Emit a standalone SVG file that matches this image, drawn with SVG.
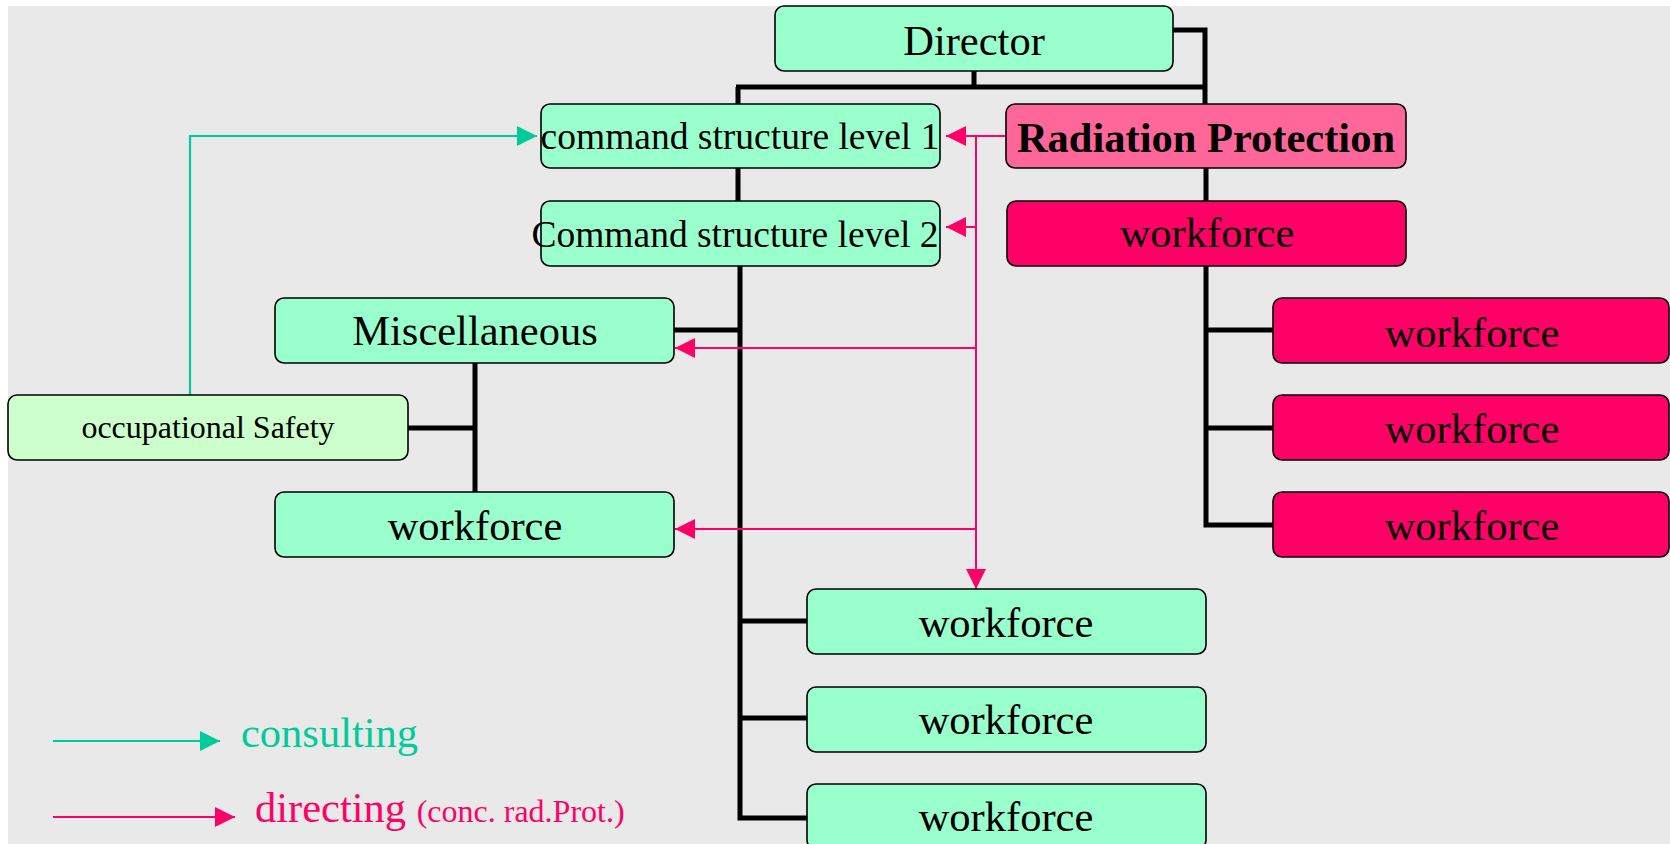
<svg xmlns="http://www.w3.org/2000/svg" width="1670" height="844" viewBox="0 0 1670 844">
<defs>
<style>
.bg{fill:#e9e9e9}
.g{fill:#99ffcc;stroke:#000;stroke-width:1.6}
.lg{fill:#ccffcc;stroke:#000;stroke-width:1.6}
.rp{fill:#ff6699;stroke:#000;stroke-width:1.6}
.r{fill:#ff0066;stroke:#000;stroke-width:1.6}
text{font-family:"Liberation Serif","Times New Roman",serif;fill:#000;text-anchor:middle}
.t{font-size:42.5px}
.tc{font-size:37.5px}
.ts{font-size:32px}
.tb{font-size:42.5px;font-weight:bold}
.thick{fill:none;stroke:#000;stroke-width:5}
.pink{fill:none;stroke:#ff0066;stroke-width:2}
.teal{fill:none;stroke:#00cc99;stroke-width:2.2}
</style>
<marker id="ap" markerUnits="userSpaceOnUse" markerWidth="20" markerHeight="20" refX="20" refY="10" orient="auto"><path d="M0,0L20,10L0,20z" fill="#ff0066"/></marker>
<marker id="at" markerUnits="userSpaceOnUse" markerWidth="20" markerHeight="20" refX="20" refY="10" orient="auto"><path d="M0,0L20,10L0,20z" fill="#00cc99"/></marker>
</defs>
<rect class="bg" x="8" y="6" width="1662" height="838"/>
<g id="connectors">
<path class="thick" d="M1173,30H1205V104"/>
<path class="thick" d="M974,71V87M736,87H1207M738,87V104"/>
<path class="thick" d="M738,168V201"/>
<path class="thick" d="M740,266V818H807M740,621H807M740,718H807M674,330H742"/>
<path class="thick" d="M1206,168V201M1206,266V525H1273M1206,330H1273M1206,428H1273"/>
<path class="thick" d="M475,363V492M408,428H477"/>
<path class="pink" d="M1006,136H976"/>
<path class="pink" d="M976,136H946" marker-end="url(#ap)"/>
<path class="pink" d="M976,227H946" marker-end="url(#ap)"/>
<path class="pink" d="M976,348H675" marker-end="url(#ap)"/>
<path class="pink" d="M976,529H675" marker-end="url(#ap)"/>
<path class="pink" d="M976,136V589" marker-end="url(#ap)"/>
<path class="teal" d="M190,395V136H537" marker-end="url(#at)"/>
</g>
<g id="director"><rect class="g" x="775" y="6" width="398" height="65" rx="9"/><text class="t" x="974" y="55">Director</text></g>
<g id="cmd1"><rect class="g" x="541" y="104" width="399" height="64" rx="9"/><text class="tc" x="740" y="149">command structure level 1</text></g>
<g id="cmd2"><rect class="g" x="541" y="201" width="399" height="65" rx="9"/><text class="tc" x="735" y="247">Command structure level 2</text></g>
<g id="radprot"><rect class="rp" x="1006" y="104" width="400" height="64" rx="9"/><text class="tb" x="1206" y="152">Radiation Protection</text></g>
<g id="rp-workforce"><rect class="r" x="1007" y="201" width="399" height="65" rx="9"/><text class="t" x="1207" y="247">workforce</text></g>
<g id="rp-wf1"><rect class="r" x="1273" y="298" width="396" height="65" rx="9"/><text class="t" x="1472" y="347">workforce</text></g>
<g id="rp-wf2"><rect class="r" x="1273" y="395" width="396" height="65" rx="9"/><text class="t" x="1472" y="443">workforce</text></g>
<g id="rp-wf3"><rect class="r" x="1273" y="492" width="396" height="65" rx="9"/><text class="t" x="1472" y="540">workforce</text></g>
<g id="misc"><rect class="g" x="275" y="298" width="399" height="65" rx="9"/><text class="t" x="475" y="345">Miscellaneous</text></g>
<g id="occsafety"><rect class="lg" x="8" y="395" width="400" height="65" rx="9"/><text class="ts" x="208" y="438">occupational Safety</text></g>
<g id="misc-workforce"><rect class="g" x="275" y="492" width="399" height="65" rx="9"/><text class="t" x="475" y="540">workforce</text></g>
<g id="wf1"><rect class="g" x="807" y="589" width="399" height="65" rx="9"/><text class="t" x="1006" y="637">workforce</text></g>
<g id="wf2"><rect class="g" x="807" y="687" width="399" height="65" rx="9"/><text class="t" x="1006" y="734">workforce</text></g>
<g id="wf3"><rect class="g" x="807" y="784" width="399" height="65" rx="9"/><text class="t" x="1006" y="831">workforce</text></g>
<g id="legend">
<path class="teal" d="M53,741H220" marker-end="url(#at)"/>
<text class="t" x="241" y="747" style="text-anchor:start;fill:#00cc99">consulting</text>
<path class="pink" d="M53,817H235" marker-end="url(#ap)"/>
<text x="255" y="822" style="text-anchor:start;fill:#ff0066;font-size:42.5px">directing <tspan style="font-size:32px">(conc. rad.Prot.)</tspan></text>
</g>
</svg>
